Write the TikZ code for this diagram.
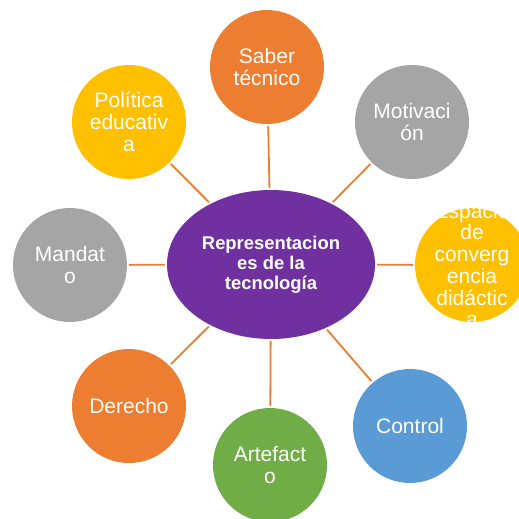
\documentclass[tikz,border=0pt]{standalone}
\usepackage{fontspec}
\setmainfont{Liberation Sans}
\usetikzlibrary{shapes.geometric}

\definecolor{cOrange}{HTML}{ED7D31}
\definecolor{cGray}{HTML}{A5A5A5}
\definecolor{cGold}{HTML}{FFC000}
\definecolor{cBlue}{HTML}{5B9BD5}
\definecolor{cGreen}{HTML}{70AD47}
\definecolor{cPurple}{HTML}{7030A0}

\tikzset{
  satellite/.style={circle, minimum size=114pt, inner sep=0pt, draw=none},
  hub/.style={ellipse, minimum width=208pt, minimum height=149pt, inner sep=0pt, fill=cPurple},
  sattext/.style={text=white, align=center, inner sep=0pt,
    font=\fontsize{21}{21.7}\selectfont},
  hubtext/.style={text=white, align=center, inner sep=0pt,
    font=\fontsize{18.4}{19.8}\selectfont\bfseries},
  spoke/.style={draw=cOrange, line width=1.8pt, shorten <=2pt, shorten >=2pt}
}

\begin{document}
\begin{tikzpicture}[x=1pt, y=-1pt]
  \useasboundingbox (0,0) rectangle (519,519);

  % central concept
  \node[hub] (hub) at (271,264.5) {};

  % surrounding concepts
  \node[satellite, fill=cOrange] (saber)  at (267,67)  {};
  \node[satellite, fill=cGray]   (motiv)  at (412,122) {};
  \node[satellite, fill=cGold]   (esp)    at (472,265) {};
  \node[satellite, fill=cBlue]   (ctrl)   at (410,426) {};
  \node[satellite, fill=cGreen]  (arte)   at (270,465) {};
  \node[satellite, fill=cOrange] (der)    at (129,406) {};
  \node[satellite, fill=cGray]   (mand)   at (70,265)  {};
  \node[satellite, fill=cGold]   (pol)    at (129,122) {};

  % spokes from the hub to each concept
  \foreach \s in {saber,motiv,esp,ctrl,arte,der,mand,pol}
    \draw[spoke] (hub) -- (\s);

  % labels
  \node[hubtext] (hubT) at (hub) {Representacion\\es de la\\tecnología};
  \node[sattext] (saberT) at (saber) {Saber\\técnico};
  \node[sattext] (motivT) at (motiv) {Motivaci\\ón};
  \node[sattext] (espT)   at (esp)   {Espacio\\de\\converg\\encia\\didáctic\\a};
  \node[sattext] (ctrlT)  at (ctrl)  {Control};
  \node[sattext] (arteT)  at (arte)  {Artefact\\o};
  \node[sattext] (derT)   at (der)   {Derecho};
  \node[sattext] (mandT)  at (mand)  {Mandat\\o};
  \node[sattext] (polT)   at (pol)   {Política\\educativ\\a};
\end{tikzpicture}
\end{document}
